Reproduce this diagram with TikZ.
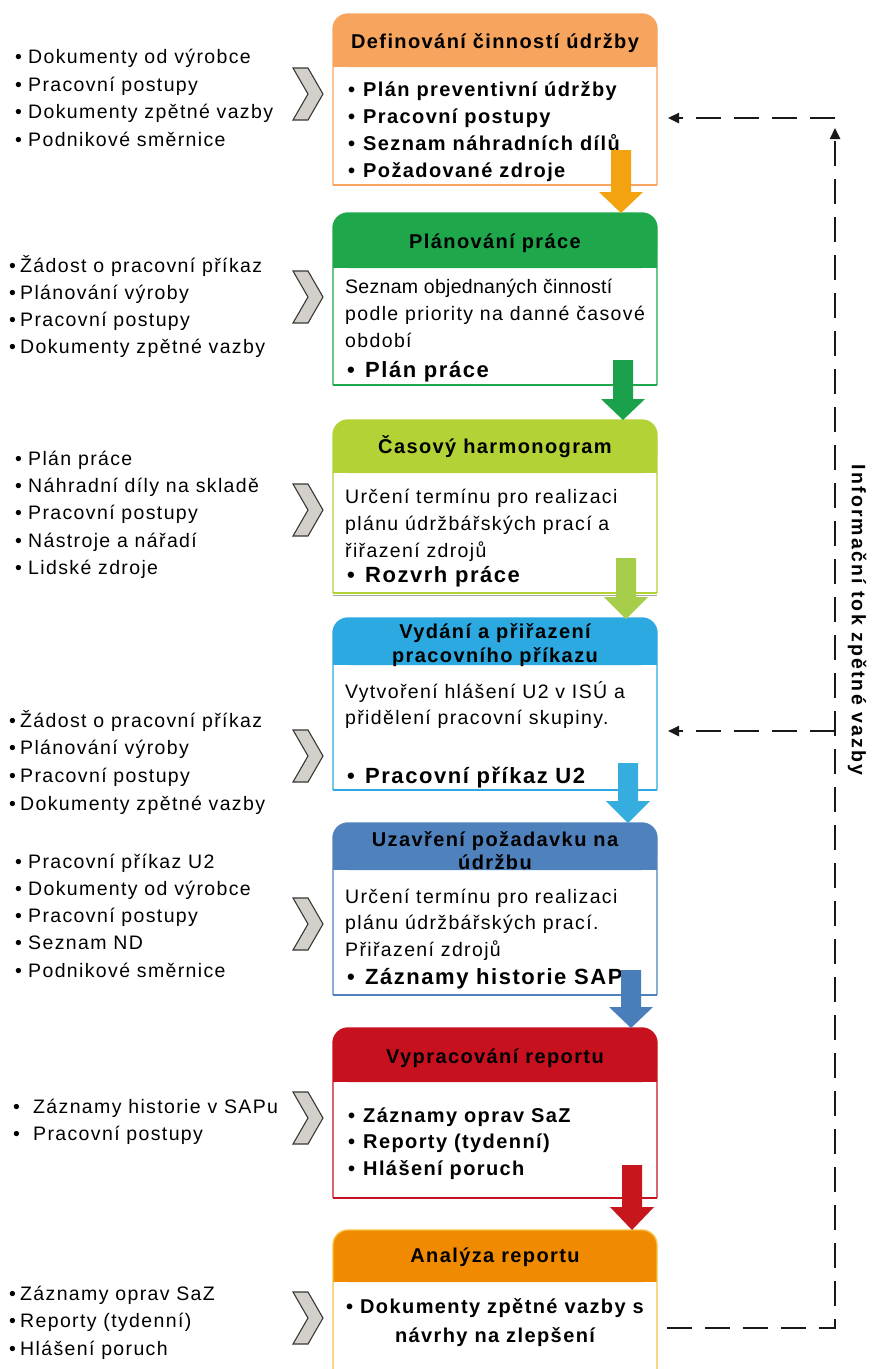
\documentclass[tikz,border=0pt]{standalone}
\usepackage{fontspec}
\setmainfont{Liberation Sans}
\newfontfamily\wideface{Liberation Sans}[LetterSpace=7]
\newfontfamily\tightface{Liberation Sans}[LetterSpace=1.5]
\newfontfamily\sideface{Liberation Sans}[LetterSpace=11]
\usetikzlibrary{arrows.meta}

\definecolor{hdA}{HTML}{F7A55E}
\definecolor{hdB}{HTML}{1EA84B}
\definecolor{hdC}{HTML}{B3D236}
\definecolor{hdD}{HTML}{2BA9E0}
\definecolor{hdE}{HTML}{4F81BD}
\definecolor{hdF}{HTML}{C8111E}
\definecolor{hdG}{HTML}{F08A00}
\definecolor{bdG}{HTML}{F6C040}
\definecolor{arA}{HTML}{F2A30F}
\definecolor{arB}{HTML}{1BA14B}
\definecolor{arC}{HTML}{A6CE4B}
\definecolor{arD}{HTML}{35ADDF}
\definecolor{arE}{HTML}{4A7EBB}
\definecolor{arF}{HTML}{C8161D}
\definecolor{chev}{HTML}{D3D0CA}

\tikzset{
  itemtext/.style={anchor=base west, inner sep=0pt, text=black,
    font=\wideface\fontsize{19.5}{23}\selectfont},
  itembold/.style={itemtext, font=\wideface\bfseries\fontsize{20}{23}\selectfont},
  itembig/.style={itemtext, font=\wideface\bfseries\fontsize{22}{25}\selectfont},
  headtext/.style={anchor=base, inner sep=0pt, text=black,
    font=\wideface\bfseries\fontsize{20}{23}\selectfont},
  centertext/.style={headtext},
  chevshape/.style={fill=chev, draw=black!78, line width=1.1pt, line join=miter},
  boxline/.style={line width=1.4pt},
  fbline/.style={draw=black!90, line width=2.4pt, dash pattern=on 25pt off 13pt},
  fbtip/.style={-{Triangle[length=11pt,width=10pt]}},
}

% stage box: name, top, header bottom, bottom, header colour, border colour
\newcommand\stagebox[6]{%
  \fill[#5, rounded corners=15pt] (333,#2) rectangle (657,#3);
  \fill[#5] (333,#2+16) rectangle (657,#3);
  \draw[#6, boxline, rounded corners=15pt] (333,#4) -- (333,#2) -- (657,#2) -- (657,#4);
  \draw[#6, boxline] (333,#4) -- (657,#4);
  \coordinate (#1-top) at (495,#2);
  \coordinate (#1-bot) at (495,#4);
}
% block arrow: name, colour, centre x, shaft top, head start, tip
\newcommand\blockarrow[6]{%
  \fill[#2] (#3-10,#4) -- (#3+10,#4) -- (#3+10,#5) -- (#3+22,#5) -- (#3,#6)
    -- (#3-22,#5) -- (#3-10,#5) -- cycle;
  \coordinate (#1) at (#3,#6);
}
% chevron centred at (308, y)
\newcommand\inchevron[1]{%
  \draw[chevshape, shift={(308,#1)}] (-15,-26) -- (0,-26) -- (15,0) -- (0,26)
    -- (-15,26) -- (0,0) -- cycle;
}
% bulleted lines: name, style, bullet x, text x, first baseline, step, items
\newcommand\itemlist[7]{%
  \foreach \itm [count=\k] in {#7}{
    \node[#2] (#1-b\k) at (#3, {#5+#6*(\k-1)}) {•};
    \node[#2] (#1-\k) at (#4, {#5+#6*(\k-1)}) {\itm};
  }%
}
% plain lines: name, style, x, first baseline, step, items
\newcommand\plainlines[6]{%
  \foreach \itm [count=\k] in {#6}{
    \node[#2] (#1-\k) at (#3, {#4+#5*(\k-1)}) {\itm};
  }%
}

\begin{document}
\begin{tikzpicture}[x=1pt,y=-1pt]
\useasboundingbox (0,0) rectangle (871,1369);

% ---- stage boxes ----
\stagebox{s1}{14}{67}{185}{hdA}{hdA}
\stagebox{s2}{213}{268}{385}{hdB}{hdB}
\stagebox{s3}{420}{473}{593}{hdC}{hdC}
\draw[black!35, line width=1.2pt] (333,595.5) -- (657,595.5);
\stagebox{s4}{618}{665}{790}{hdD}{hdD}
\stagebox{s5}{823}{870}{995}{hdE}{hdE}
\stagebox{s6}{1028}{1082}{1198}{hdF}{hdF}
% last box runs off the bottom edge
\fill[hdG, rounded corners=15pt] (333,1230) rectangle (657,1282);
\fill[hdG] (333,1246) rectangle (657,1282);
\draw[bdG, boxline, rounded corners=15pt] (333,1369) -- (333,1230) -- (657,1230) -- (657,1369);
\coordinate (s7-top) at (495,1230);

% ---- headers ----
\node[headtext] (h1) at (495,48) {Definování činností údržby};
\node[headtext] (h2) at (495,248) {Plánování práce};
\node[headtext] (h3) at (495,453) {Časový harmonogram};
\node[headtext] (h4a) at (495,638) {Vydání a přiřazení};
\node[headtext] (h4b) at (495,662) {pracovního příkazu};
\node[headtext] (h5a) at (495,846) {Uzavření požadavku na};
\node[headtext] (h5b) at (495,869) {údržbu};
\node[headtext] (h6) at (495,1063) {Vypracování reportu};
\node[headtext] (h7) at (495,1262) {Analýza reportu};

% ---- box contents ----
\itemlist{c1}{itembold}{348}{363}{96}{27}{Plán preventivní údržby,Pracovní postupy,Seznam náhradních dílů,Požadované zdroje}
\plainlines{c2}{itemtext}{345}{293}{27}{{\tightface Seznam objednaných činností},podle priority na danné časové,období}
\itemlist{c2r}{itembig}{347}{365}{377}{0}{Plán práce}
\plainlines{c3}{itemtext}{345}{503}{27}{Určení termínu pro realizaci,plánu údržbářských prací a,řiřazení zdrojů}
\itemlist{c3r}{itembig}{347}{365}{582}{0}{Rozvrh práce}
\plainlines{c4}{itemtext}{345}{698}{26}{Vytvoření hlášení U2 v ISÚ a,přidělení pracovní skupiny.}
\itemlist{c4r}{itembig}{347}{365}{783}{0}{Pracovní příkaz U2}
\plainlines{c5}{itemtext}{345}{903}{26.5}{Určení termínu pro realizaci,plánu údržbářských prací.,Přiřazení zdrojů}
\itemlist{c5r}{itembig}{347}{365}{984}{0}{Záznamy historie SAP}
\itemlist{c6}{itembold}{348}{363}{1122}{26.5}{Záznamy oprav SaZ,Reporty (tydenní),Hlášení poruch}
\node[centertext] (c7-1) at (495,1313) {• Dokumenty zpětné vazby s};
\node[centertext] (c7-2) at (495,1342) {návrhy na zlepšení};

% ---- flow arrows between stages ----
\blockarrow{a1}{arA}{621}{150}{192}{213}
\blockarrow{a2}{arB}{623}{360}{399}{420}
\blockarrow{a3}{arC}{626}{558}{597}{619}
\blockarrow{a4}{arD}{628}{763}{801}{823}
\blockarrow{a5}{arE}{631}{970}{1007}{1028}
\blockarrow{a6}{arF}{632}{1165}{1207}{1230}

% ---- inputs on the left ----
\inchevron{94}
\inchevron{297}
\inchevron{510}
\inchevron{756}
\inchevron{924}
\inchevron{1118}
\inchevron{1318}

\itemlist{i1}{itemtext}{15}{28}{63.5}{27.5}{Dokumenty od výrobce,Pracovní postupy,Dokumenty zpětné vazby,Podnikové směrnice}
\itemlist{i2}{itemtext}{9}{20}{272}{27.3}{Žádost o pracovní příkaz,Plánování výroby,Pracovní postupy,Dokumenty zpětné vazby}
\itemlist{i3}{itemtext}{15}{28}{465}{27.4}{Plán práce,Náhradní díly na skladě,Pracovní postupy,Nástroje a nářadí,Lidské zdroje}
\itemlist{i4}{itemtext}{9}{20}{727}{27.7}{Žádost o pracovní příkaz,Plánování výroby,Pracovní postupy,Dokumenty zpětné vazby}
\itemlist{i5}{itemtext}{15}{28}{868}{27.3}{Pracovní příkaz U2,Dokumenty od výrobce,Pracovní postupy,Seznam ND,Podnikové směrnice}
\itemlist{i6}{itemtext}{13}{33}{1113}{27.5}{Záznamy historie v SAPu,Pracovní postupy}
\itemlist{i7}{itemtext}{9}{20}{1300}{27.5}{Záznamy oprav SaZ,Reporty (tydenní),Hlášení poruch}

% ---- feedback loop ----
\coordinate (fb-start) at (667,1328);
\coordinate (fb-corner) at (835,1328);
\coordinate (fb-top) at (835,128);
\coordinate (fb-out1) at (835,118);
\coordinate (fb-in1) at (668,118);
\coordinate (fb-out4) at (835,731);
\coordinate (fb-in4) at (668,731);
\draw[fbline, fbtip] (fb-start) -- (fb-corner) -- (fb-top);
\draw[fbline, fbtip] (fb-out1) -- (fb-in1);
\draw[fbline, fbtip] (fb-out4) -- (fb-in4);
\node[rotate=-90, inner sep=0pt, font=\sideface\bfseries\fontsize{19.5}{23}\selectfont]
  (fb-label) at (857,620) {Informační tok zpětné vazby};
\end{tikzpicture}
\end{document}
